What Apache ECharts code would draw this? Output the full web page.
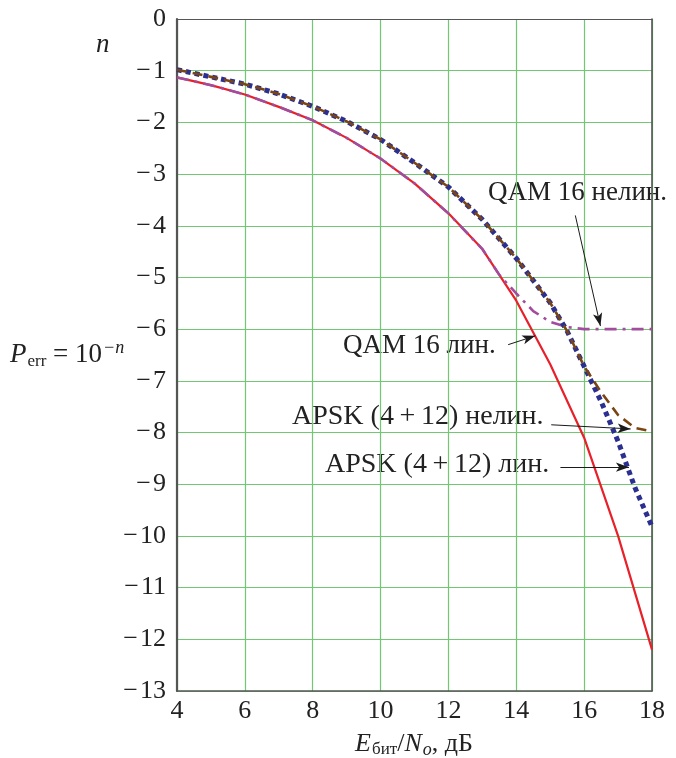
<!DOCTYPE html>
<html><head><meta charset="utf-8">
<script src="https://cdn.jsdelivr.net/npm/echarts@6/dist/echarts.min.js"></script>
<style>html,body{margin:0;padding:0;background:#fff}#c{width:676px;height:758px}</style>
</head><body><div id="c"></div>
<script>
// x values (dB)
const xQamLin = [4,5,6,7,8,9,10,11,12,13,14,15,16,17,18];
const yQamLin = [-1.13,-1.28,-1.46,-1.70,-1.96,-2.30,-2.70,-3.18,-3.76,-4.45,-5.45,-6.68,-8.10,-10.0,-12.2];

const xQamNonlin = [4,5,6,7,8,9,10,11,12,13,13.5,14,14.5,15,15.5,16,17,18];
const yQamNonlin = [-1.13,-1.28,-1.46,-1.70,-1.96,-2.30,-2.70,-3.18,-3.76,-4.45,-4.95,-5.31,-5.65,-5.86,-5.96,-6.0,-6.0,-6.0];

const xApsk = [4,5,6,7,8,9,10,11,12,13,14,15,15.5,16,16.5,17,17.5,18];
const yApskLin = [-0.98,-1.12,-1.26,-1.45,-1.69,-1.98,-2.33,-2.78,-3.25,-3.88,-4.63,-5.49,-6.04,-6.72,-7.40,-8.17,-9.07,-9.82];
const yApskNonlin = [-0.98,-1.12,-1.26,-1.45,-1.69,-1.98,-2.33,-2.78,-3.25,-3.88,-4.63,-5.49,-6.04,-6.72,-7.22,-7.66,-7.91,-7.98];

// annotation arrows (data units): from -> to
const arrowFrom = [[15.74,-3.80],[13.76,-6.30],[15.03,-7.85],[15.30,-8.67]];
const arrowTo   = [[16.48,-5.94],[14.56,-6.13],[17.37,-7.93],[17.32,-8.67]];
const labels = ['QAM 16 нелин.','QAM 16 лин.','APSK (4\u2009+\u200912) нелин.','APSK (4\u2009+\u200912) лин.'];

const pair = (xs, ys) => xs.map((x, i) => [x, ys[i]]);
const FONT = '"Liberation Serif", "DejaVu Serif", serif';
const chart = echarts.init(document.getElementById('c'), null, {renderer: 'canvas'});

const option = {
  animation: false,
  backgroundColor: '#fff',
  grid: {left: 177, right: 24, top: 19, bottom: 67},
  xAxis: [{
    type: 'value', min: 4, max: 18, interval: 2,
    axisLine: {show: true, onZero: false, lineStyle: {color: '#555', width: 1.6}},
    axisTick: {show: false},
    axisLabel: {color: '#222', fontFamily: FONT, fontSize: 26, margin: 7},
    splitLine: {show: true, lineStyle: {color: '#72c872', width: 1.2}}
  }, {
    type: 'value', min: 4, max: 18, position: 'top',
    axisLine: {show: true, onZero: false, lineStyle: {color: '#555', width: 1.2}},
    axisTick: {show: false}, axisLabel: {show: false}, splitLine: {show: false}
  }],
  yAxis: [{
    type: 'value', min: -13, max: 0, interval: 1,
    axisLine: {show: true, onZero: false, lineStyle: {color: '#555', width: 2.2}},
    axisTick: {show: false},
    axisLabel: {color: '#222', fontFamily: FONT, fontSize: 26, margin: 11,
      formatter: v => v < 0 ? '\u2212\u200a' + Math.abs(v) : String(v)},
    splitLine: {show: true, lineStyle: {color: '#72c872', width: 1.2}}
  }, {
    type: 'value', min: -13, max: 0, position: 'right',
    axisLine: {show: true, onZero: false, lineStyle: {color: '#555', width: 1.6}},
    axisTick: {show: false}, axisLabel: {show: false}, splitLine: {show: false}
  }],
  series: [
    {
      name: 'QAM 16 лин.', type: 'line', data: pair(xQamLin, yQamLin), showSymbol: false,
      lineStyle: {color: '#e8202a', width: 2.2}, z: 2,
      markLine: {
        silent: true, symbol: ['none', 'arrow'], symbolSize: [7, 13],
        label: {show: false},
        lineStyle: {color: '#1a1a1a', width: 1, type: 'solid'},
        data: arrowFrom.map((f, i) => [{coord: f}, {coord: arrowTo[i]}])
      }
    },
    {
      name: 'QAM 16 нелин.', type: 'line', data: pair(xQamNonlin, yQamNonlin), showSymbol: false,
      lineStyle: {color: '#a24c9e', width: 2.6, type: [12, 6, 3, 6]}, z: 3
    },
    {
      name: 'APSK (4+12) лин.', type: 'line', data: pair(xApsk, yApskLin), showSymbol: false,
      lineStyle: {color: '#2b2f90', width: 5, type: [5, 4], cap: 'butt'}, z: 4
    },
    {
      name: 'APSK (4+12) нелин.', type: 'line', data: pair(xApsk, yApskNonlin), showSymbol: false,
      lineStyle: {color: '#7a4512', width: 2.6, type: [10, 6]}, z: 5
    }
  ],
  graphic: [
    {type: 'text', x: 488, y: 193, style: {text: labels[0], font: '27px ' + FONT, fill: '#222', align: 'left', verticalAlign: 'middle'}},
    {type: 'text', x: 343, y: 346, style: {text: labels[1], font: '27px ' + FONT, fill: '#222', align: 'left', verticalAlign: 'middle'}},
    {type: 'text', x: 292, y: 417, style: {text: labels[2], font: '28px ' + FONT, fill: '#222', align: 'left', verticalAlign: 'middle'}},
    {type: 'text', x: 325, y: 465, style: {text: labels[3], font: '28px ' + FONT, fill: '#222', align: 'left', verticalAlign: 'middle'}},
    {type: 'text', x: 96, y: 45, style: {text: 'n', font: 'italic 27px ' + FONT, fill: '#222', align: 'left', verticalAlign: 'middle'}},
    {type: 'text', x: 10, y: 355, style: {
      text: '{i|P}{s|err}{t| = 10}{p|\u2212n}',
      fill: '#222', align: 'left', verticalAlign: 'middle',
      rich: {
        i: {fontFamily: FONT, fontStyle: 'italic', fontSize: 27, lineHeight: 34},
        s: {fontFamily: FONT, fontSize: 17, lineHeight: 18, padding: [14, 0, 0, 1]},
        t: {fontFamily: FONT, fontSize: 27, lineHeight: 34},
        p: {fontFamily: FONT, fontStyle: 'italic', fontSize: 18, lineHeight: 18, padding: [0, 0, 14, 1]}
      }
    }},
    {type: 'text', x: 414, y: 744, style: {
      text: '{i|E}{s|бит}{t|/}{i|N}{o|o}{t|, дБ}',
      fill: '#222', align: 'center', verticalAlign: 'middle',
      rich: {
        i: {fontFamily: FONT, fontStyle: 'italic', fontSize: 26, lineHeight: 32},
        s: {fontFamily: FONT, fontSize: 17, lineHeight: 18, padding: [12, 0, 0, 1]},
        o: {fontFamily: FONT, fontStyle: 'italic', fontSize: 18, lineHeight: 18, padding: [12, 0, 0, 1]},
        t: {fontFamily: FONT, fontSize: 26, lineHeight: 32}
      }
    }}
  ]
};
chart.setOption(option);
</script>
</body></html>
